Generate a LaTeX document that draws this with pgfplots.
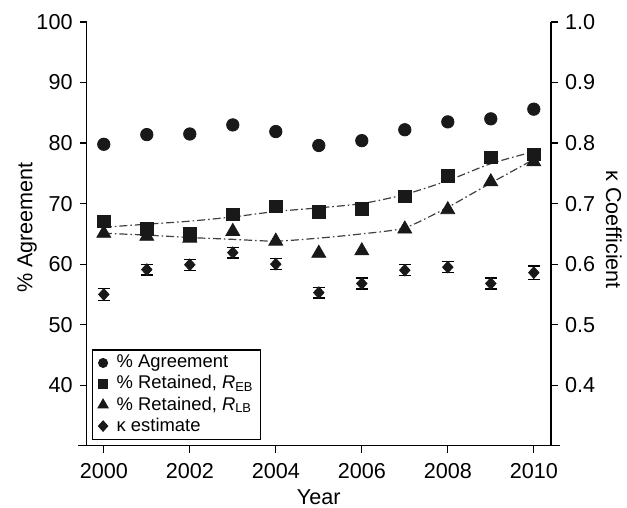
\documentclass[border=0pt]{standalone}
\usepackage{fontspec}
\setmainfont{Liberation Sans}
\usepackage{pgfplots}
\pgfplotsset{compat=1.18}
\usetikzlibrary{calc}
\begin{document}
\begin{tikzpicture}
\pgfplotsset{
  every axis/.append style={
    scale only axis, width=232.2pt, height=211.9pt,
    xmin=1999.6, xmax=2010.4,
    tick align=outside, major tick length=3.5pt,
    tick style={black, line width=0.6pt},
    axis line style={-, black, line width=0.6pt},
    tick label style={font=\fontsize{10.8}{13}\selectfont},
    label style={font=\fontsize{10.8}{13}\selectfont},
    /pgf/number format/assume math mode=true,
  }
}
\begin{axis}[
  axis x line*=bottom, axis y line*=left,
  x axis line style={shorten <=-4.3pt, shorten >=-4.3pt},
  ymin=30, ymax=100,
  ytick={40,50,60,70,80,90,100},
  xtick={2000,2002,2004,2006,2008,2010},
  xticklabel style={/pgf/number format/1000 sep={}, yshift=-2pt},
  xlabel={Year}, xlabel shift=-1.5pt,
  ylabel={\% Agreement},
  ylabel shift=-7pt,
  ylabel style={at={(ticklabel cs:0.515)}},
]
\coordinate (SW) at (rel axis cs:0,0);
\coordinate (NE) at (rel axis cs:1,1);
% trend lines
\addplot[forget plot, black!75, line width=0.6pt, dash pattern=on 4pt off 1.5pt on 0.8pt off 1.5pt, smooth, tension=0.4] coordinates {
(2000,66.1) (2001,66.6) (2002,67.1) (2003,67.8) (2004,68.7) (2005,69.3) (2006,70.0) (2007,71.5) (2008,73.8) (2009,76.6) (2010,78.6)};
\addplot[forget plot, black!75, line width=0.6pt, dash pattern=on 4pt off 1.5pt on 0.8pt off 1.5pt, smooth, tension=0.4] coordinates {
(2000,65.1) (2001,64.8) (2002,64.4) (2003,64.1) (2004,63.8) (2005,64.3) (2006,65.0) (2007,66.0) (2008,69.4) (2009,73.4) (2010,77.3)};
% agreement
\addplot[only marks, mark=*, mark size=3.1pt, black!90] coordinates {
(2000,79.8) (2001,81.4) (2002,81.5) (2003,83.0) (2004,81.9) (2005,79.6) (2006,80.4) (2007,82.2) (2008,83.5) (2009,84.0) (2010,85.6)};
% R_EB
\addplot[only marks, mark=square*, mark size=3.1pt, black!90] coordinates {
(2000,67.1) (2001,65.8) (2002,65.0) (2003,68.2) (2004,69.5) (2005,68.6) (2006,69.1) (2007,71.2) (2008,74.6) (2009,77.6) (2010,78.1)};
% R_LB
\addplot[only marks, mark=triangle*, mark size=4pt, black!90] coordinates {
(2000,65.1) (2001,64.6) (2002,64.3) (2003,65.4) (2004,63.8) (2005,61.8) (2006,62.2) (2007,65.8) (2008,69.0) (2009,73.6) (2010,76.9)};
\end{axis}
\begin{axis}[
  axis x line=none, axis y line*=right,
  ymin=0.3, ymax=1.0,
  ytick={0.4,0.5,0.6,0.7,0.8,0.9,1.0},
  yticklabel style={/pgf/number format/.cd, fixed, fixed zerofill, precision=1},
  ylabel={κ Coefficient},
  ylabel style={rotate=180, at={(ticklabel cs:0.51)}},
  ylabel shift=-1.5pt,
  legend style={at={(rel axis cs:0.0114,0.014)}, anchor=south west, draw=black, line width=0.6pt,
    font=\fontsize{9.2}{11}\selectfont, inner xsep=1.5pt, inner ysep=0.5pt, row sep=-1.6pt},
  legend cell align=left,
  legend image code/.code={\path (-3.5pt,0pt) (4.5pt,0pt); \draw[#1] plot[only marks] coordinates {(0pt,0pt)};},
]
\addlegendimage{mark=*, mark size=2.2pt, black!90}
\addlegendentry{\% Agreement}
\addlegendimage{mark=square*, mark size=2.1pt, black!90}
\addlegendentry{\% Retained, \textit{R}\textsubscript{EB}}
\addlegendimage{mark=triangle*, mark size=2.8pt, black!90}
\addlegendentry{\% Retained, \textit{R}\textsubscript{LB}}
\addlegendimage{mark=diamond*, mark size=2.5pt, mark options={xscale=1.2}, black!90}
\addlegendentry{κ estimate}
\addplot[forget plot, only marks, mark=diamond*, mark size=2.9pt, black!90, mark options={xscale=1.2},
  error bars/.cd, y dir=both, y explicit,
  error bar style={black, line width=0.6pt},
  error mark options={rotate=90, mark size=3.1pt, line width=0.6pt, black}] coordinates {
(2000,0.550) +- (0,0.010)
(2001,0.591) +- (0,0.009)
(2002,0.599) +- (0,0.009)
(2003,0.619) +- (0,0.009)
(2004,0.600) +- (0,0.009)
(2005,0.553) +- (0,0.009)
(2006,0.568) +- (0,0.009)
(2007,0.590) +- (0,0.009)
(2008,0.595) +- (0,0.009)
(2009,0.568) +- (0,0.009)
(2010,0.586) +- (0,0.011)};
\end{axis}
\pgfresetboundingbox
\path ($(SW)+(-43.3pt,-31pt)$) rectangle ($(NE)+(38pt,11pt)$);
\end{tikzpicture}
\end{document}
